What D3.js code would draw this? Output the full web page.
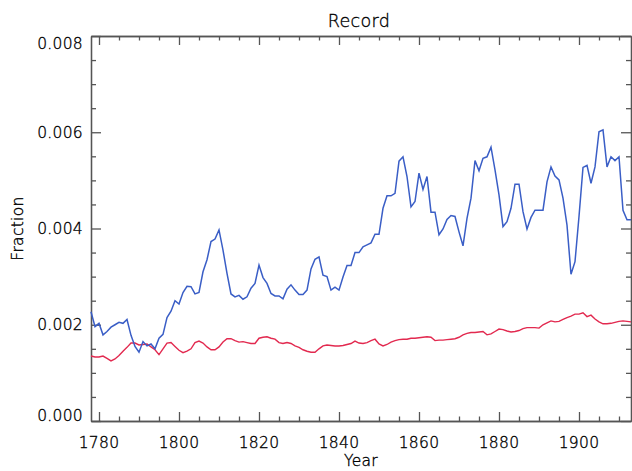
<!DOCTYPE html>
<html><head><meta charset="utf-8">
<script src="https://cdn.jsdelivr.net/npm/d3@7"></script>
<style>
body{margin:0;background:#fff}
text{font-family:"DejaVu Sans",sans-serif;font-weight:200;fill:#000;stroke:#000;stroke-width:0.35px;letter-spacing:0.3px}
</style>
</head><body>
<svg id="chart" width="632" height="471"></svg>
<script>
const firstYear = 1778, lastYear = 1913;
const years = d3.range(firstYear, lastYear + 1);

const blueValues = [
0.00227,0.00196,0.00203,0.00179,0.00186,0.00195,0.00200,0.00205,0.00203,0.00211,
0.00178,0.00155,0.00143,0.00165,0.00156,0.00160,0.00150,0.00172,0.00180,0.00215,
0.00228,0.00250,0.00243,0.00267,0.00280,0.00279,0.00264,0.00267,0.00310,0.00335,
0.00373,0.00378,0.00397,0.00355,0.00307,0.00264,0.00258,0.00261,0.00253,0.00258,
0.00276,0.00286,0.00324,0.00298,0.00286,0.00265,0.00260,0.00260,0.00254,0.00274,
0.00283,0.00272,0.00263,0.00263,0.00272,0.00316,0.00336,0.00341,0.00303,0.00300,
0.00272,0.00278,0.00272,0.00299,0.00323,0.00323,0.00350,0.00350,0.00362,0.00366,
0.00370,0.00388,0.00388,0.00442,0.00468,0.00468,0.00473,0.00540,0.00549,0.00508,
0.00445,0.00456,0.00515,0.00481,0.00508,0.00434,0.00434,0.00387,0.00399,0.00419,
0.00427,0.00425,0.00393,0.00364,0.00421,0.00463,0.00541,0.00520,0.00546,0.00549,
0.00569,0.00522,0.00470,0.00404,0.00414,0.00442,0.00492,0.00492,0.00435,0.00399,
0.00423,0.00438,0.00438,0.00438,0.00497,0.00528,0.00509,0.00501,0.00463,0.00407,
0.00305,0.00331,0.00425,0.00527,0.00531,0.00494,0.00528,0.00601,0.00605,0.00528,
0.00549,0.00541,0.00549,0.00438,0.00418,0.00418
];

const redValues = [
0.00135,0.00133,0.00133,0.00135,0.00130,0.00125,0.00129,0.00136,0.00145,0.00153,
0.00162,0.00162,0.00158,0.00159,0.00160,0.00154,0.00148,0.00138,0.00150,0.00162,
0.00163,0.00155,0.00147,0.00142,0.00145,0.00150,0.00163,0.00166,0.00162,0.00154,
0.00148,0.00148,0.00154,0.00164,0.00171,0.00171,0.00167,0.00164,0.00165,0.00163,
0.00161,0.00161,0.00172,0.00174,0.00175,0.00172,0.00170,0.00163,0.00161,0.00163,
0.00161,0.00156,0.00153,0.00148,0.00145,0.00143,0.00143,0.00150,0.00156,0.00158,
0.00157,0.00156,0.00156,0.00157,0.00159,0.00161,0.00166,0.00162,0.00161,0.00163,
0.00167,0.00170,0.00160,0.00156,0.00159,0.00164,0.00167,0.00169,0.00170,0.00170,
0.00172,0.00172,0.00173,0.00174,0.00175,0.00174,0.00167,0.00168,0.00168,0.00169,
0.00170,0.00171,0.00174,0.00179,0.00182,0.00184,0.00184,0.00185,0.00186,0.00179,
0.00181,0.00186,0.00191,0.00190,0.00187,0.00185,0.00186,0.00188,0.00192,0.00194,
0.00194,0.00194,0.00193,0.00200,0.00204,0.00208,0.00206,0.00207,0.00211,0.00215,
0.00218,0.00222,0.00222,0.00225,0.00217,0.00220,0.00212,0.00206,0.00202,0.00202,
0.00203,0.00205,0.00207,0.00208,0.00207,0.00206
];

const xTickValues = [1780,1800,1820,1840,1860,1880,1900];
const xTickLabels = ["1780","1800","1820","1840","1860","1880","1900"];
const yTickValues = [0,0.002,0.004,0.006,0.008];
const yTickLabels = ["0.000","0.002","0.004","0.006","0.008"];

const titleText = "Record", xTitle = "Year", yTitle = "Fraction";

const W = 632, H = 471;
const L = 91, R = 631, T = 36, B = 421;

const svg = d3.select("#chart");
const x = d3.scaleLinear().domain([firstYear, lastYear]).range([L, R]);
const y = d3.scaleLinear().domain([0, 0.008]).range([B, T]);

const axisColor = "#555";
const xMinor = d3.range(1780, lastYear + 1, 5).filter(v => v % 20 !== 0);
const yMinor = d3.range(0, 17).map(i => i * 0.0005).filter((v, i) => i % 4 !== 0);

function styleAxis(g){
  g.select(".domain").attr("stroke", axisColor).attr("stroke-width", 1.3);
  g.selectAll(".tick line").attr("stroke", axisColor).attr("stroke-width", 1.3);
  g.selectAll("text").remove();
}

// bottom
svg.append("g").attr("transform",`translate(0,${B})`)
  .call(d3.axisBottom(x).tickValues(xTickValues).tickSizeInner(-9).tickSizeOuter(0).tickFormat(""))
  .call(styleAxis);
svg.append("g").attr("transform",`translate(0,${B})`)
  .call(d3.axisBottom(x).tickValues(xMinor).tickSizeInner(-4.5).tickSizeOuter(0).tickFormat(""))
  .call(styleAxis);
// top
svg.append("g").attr("transform",`translate(0,${T})`)
  .call(d3.axisTop(x).tickValues(xTickValues).tickSizeInner(-9).tickSizeOuter(0).tickFormat(""))
  .call(styleAxis);
svg.append("g").attr("transform",`translate(0,${T})`)
  .call(d3.axisTop(x).tickValues(xMinor).tickSizeInner(-4.5).tickSizeOuter(0).tickFormat(""))
  .call(styleAxis);
// left
svg.append("g").attr("transform",`translate(${L},0)`)
  .call(d3.axisLeft(y).tickValues(yTickValues).tickSizeInner(-10).tickSizeOuter(0).tickFormat(""))
  .call(styleAxis);
svg.append("g").attr("transform",`translate(${L},0)`)
  .call(d3.axisLeft(y).tickValues(yMinor).tickSizeInner(-5).tickSizeOuter(0).tickFormat(""))
  .call(styleAxis);
// right
svg.append("g").attr("transform",`translate(${R},0)`)
  .call(d3.axisRight(y).tickValues(yTickValues).tickSizeInner(-10).tickSizeOuter(0).tickFormat(""))
  .call(styleAxis);
svg.append("g").attr("transform",`translate(${R},0)`)
  .call(d3.axisRight(y).tickValues(yMinor).tickSizeInner(-5).tickSizeOuter(0).tickFormat(""))
  .call(styleAxis);

// tick labels
svg.append("g").selectAll("text").data(xTickValues).join("text")
  .attr("x", d => x(d)).attr("y", B + 27)
  .attr("text-anchor","middle").attr("font-size", 15.5)
  .text((d,i) => xTickLabels[i]);

svg.append("g").selectAll("text").data(yTickValues).join("text")
  .attr("x", L - 8)
  .attr("y", (d,i) => y(d) + (i === 0 ? -6 : i === yTickValues.length - 1 ? 7 : 0))
  .attr("dy","0.36em")
  .attr("text-anchor","end").attr("font-size", 15.5)
  .text((d,i) => yTickLabels[i]);

// titles
svg.append("text").attr("x", (L+R)/2 - 2).attr("y", 27).attr("text-anchor","middle")
  .attr("font-size", 17.5).text(titleText);
svg.append("text").attr("x", (L+R)/2).attr("y", 466).attr("text-anchor","middle")
  .attr("font-size", 15.5).text(xTitle);
svg.append("text").attr("transform", `translate(23,${(T+B)/2}) rotate(-90)`)
  .attr("text-anchor","middle").attr("font-size", 15.5).text(yTitle);

// lines
const line = d3.line().x((d,i) => x(years[i])).y(d => y(d));
svg.append("path").datum(redValues).attr("d", line)
  .attr("fill","none").attr("stroke","#e2294f").attr("stroke-width",1.4);
svg.append("path").datum(blueValues).attr("d", line)
  .attr("fill","none").attr("stroke","#3a5ec6").attr("stroke-width",1.5);
</script>
</body></html>
